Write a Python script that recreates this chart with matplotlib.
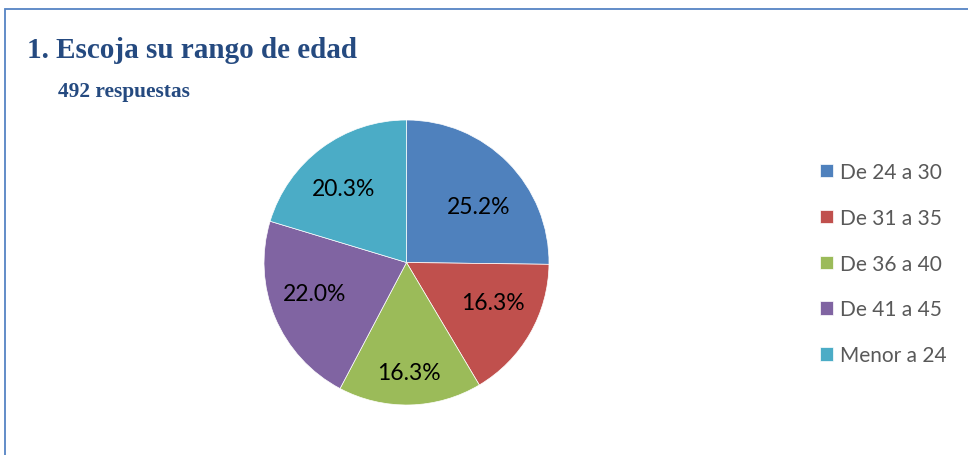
import matplotlib
matplotlib.use("Agg")
import numpy as np
import matplotlib.pyplot as plt
import matplotlib.patches as mpatches

# Data
categories = ["De 24 a 30", "De 31 a 35", "De 36 a 40", "De 41 a 45", "Menor a 24"]
counts = [124, 80, 80, 108, 100]
colours = ["#4F81BD", "#C0504D", "#9BBB59", "#8064A2", "#4BACC6"]
title = "1. Escoja su rango de edad"
subtitle = "492 respuestas"

W, H = 968, 456
fig = plt.figure(figsize=(W / 100, H / 100), dpi=100)

# outer frame (runs off the right and bottom edges)
frame = mpatches.Rectangle((5 / W, -0.1), 1.2, 1 - 10 / H + 0.1,
                           transform=fig.transFigure, fill=False,
                           edgecolor="#5584C4", linewidth=1.3)
fig.patches.append(frame)

fig.text(27 / W, 1 - 58 / H, title, fontsize=21, fontweight="bold",
         family="Liberation Serif", color="#254A80", va="baseline")
fig.text(58 / W, 1 - 97 / H, subtitle, fontsize=15.4, fontweight="bold",
         family="Liberation Serif", color="#254A80", va="baseline")

# pie axes
cx, cy, r = 406.5, 263.5, 142.5
ax = fig.add_axes([(cx - r) / W, (H - cy - r) / H, 2 * r / W, 2 * r / H])
wedges, texts, autotexts = ax.pie(
    counts, colors=colours, startangle=90, counterclock=False,
    autopct="%1.1f%%", pctdistance=0.68,
    wedgeprops=dict(edgecolor="white", linewidth=0.5),
    textprops=dict(fontsize=16.5, family="Lato", color="black"))

# Excel "best fit" style label placement (radial fraction / angle nudge)
label_dist = [0.64, 0.67, 0.77, 0.68, 0.68]
label_nudge = [-7, 5, 0, -4, 4]
for w, t, d, n in zip(wedges, autotexts, label_dist, label_nudge):
    ang = np.deg2rad((w.theta1 + w.theta2) / 2 + n)
    t.set_position((d * np.cos(ang), d * np.sin(ang)))

ax.set_xlim(-1, 1)
ax.set_ylim(-1, 1)
ax.set_aspect("equal")

leg = fig.legend(wedges, categories, loc="upper left",
                 bbox_to_anchor=(820 / W, 1 - 163 / H),
                 frameon=False, borderpad=0, borderaxespad=0,
                 handlelength=0.625, handleheight=0.625,
                 handletextpad=0.34, labelspacing=1.24,
                 prop=dict(family="Lato", size=15))
for t in leg.get_texts():
    t.set_color("#595959")

fig.savefig("out.png", dpi=100)
